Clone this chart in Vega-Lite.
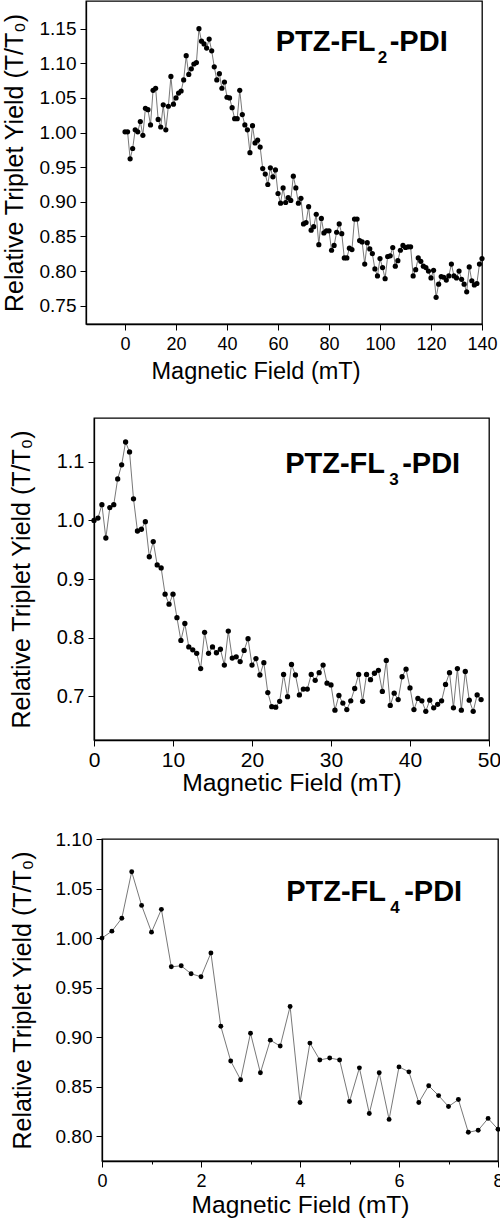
{
"$schema": "https://vega.github.io/schema/vega-lite/v6.json",
"padding": {"left": 0, "top": 0, "right": 0, "bottom": 0},
"config": {
  "font": "Liberation Sans",
  "view": {"stroke": "#000", "strokeWidth": 1.3},
  "axis": {"grid": false, "domainColor": "#000", "domainWidth": 1.3, "tickColor": "#000", "tickWidth": 1, "labelColor": "#000", "titleColor": "#000", "titleFontWeight": "normal", "labelFont": "Liberation Sans", "titleFont": "Liberation Sans", "labelOverlap": false, "labelSeparation": -1000, "labelBound": false, "labelFlush": false}
},
"datasets": {
"p2": [
{"B":0,"T":1.001},{"B":1,"T":1.001},{"B":2,"T":0.962},{"B":3,"T":0.977},{"B":4,"T":1.004},{"B":5,"T":1.001},{"B":6,"T":1.016},{"B":7,"T":0.996},{"B":8,"T":1.035},{"B":9,"T":1.033},
{"B":10,"T":1.011},{"B":11,"T":1.061},{"B":12,"T":1.064},{"B":13,"T":1.019},{"B":14,"T":1.008},{"B":15,"T":1.040},{"B":16,"T":1.004},{"B":17,"T":1.038},{"B":18,"T":1.081},{"B":19,"T":1.041},
{"B":20,"T":1.050},{"B":21,"T":1.057},{"B":22,"T":1.060},{"B":23,"T":1.076},{"B":24,"T":1.111},{"B":25,"T":1.084},{"B":26,"T":1.092},{"B":27,"T":1.099},{"B":28,"T":1.101},{"B":29,"T":1.150},
{"B":30,"T":1.132},{"B":31,"T":1.128},{"B":32,"T":1.122},{"B":33,"T":1.135},{"B":34,"T":1.118},{"B":35,"T":1.095},{"B":36,"T":1.076},{"B":37,"T":1.085},{"B":38,"T":1.064},{"B":39,"T":1.073},
{"B":40,"T":1.051},{"B":41,"T":1.050},{"B":42,"T":1.036},{"B":43,"T":1.020},{"B":44,"T":1.020},{"B":45,"T":1.061},{"B":46,"T":1.026},{"B":47,"T":1.011},{"B":48,"T":1.004},{"B":49,"T":0.971},
{"B":50,"T":1.010},{"B":51,"T":0.985},{"B":52,"T":0.989},{"B":53,"T":0.979},{"B":54,"T":0.948},{"B":55,"T":0.940},{"B":56,"T":0.925},{"B":57,"T":0.949},{"B":58,"T":0.936},{"B":59,"T":0.946},
{"B":60,"T":0.912},{"B":61,"T":0.898},{"B":62,"T":0.920},{"B":63,"T":0.899},{"B":64,"T":0.906},{"B":65,"T":0.902},{"B":66,"T":0.937},{"B":67,"T":0.920},{"B":68,"T":0.898},{"B":69,"T":0.905},
{"B":70,"T":0.868},{"B":71,"T":0.870},{"B":72,"T":0.893},{"B":73,"T":0.859},{"B":74,"T":0.864},{"B":75,"T":0.882},{"B":76,"T":0.838},{"B":77,"T":0.876},{"B":78,"T":0.855},{"B":79,"T":0.858},
{"B":80,"T":0.858},{"B":81,"T":0.830},{"B":82,"T":0.837},{"B":83,"T":0.856},{"B":84,"T":0.868},{"B":85,"T":0.854},{"B":86,"T":0.819},{"B":87,"T":0.819},{"B":88,"T":0.833},{"B":89,"T":0.831},
{"B":90,"T":0.875},{"B":91,"T":0.875},{"B":92,"T":0.844},{"B":93,"T":0.842},{"B":94,"T":0.810},{"B":95,"T":0.841},{"B":96,"T":0.832},{"B":97,"T":0.825},{"B":98,"T":0.803},{"B":99,"T":0.793},
{"B":100,"T":0.818},{"B":101,"T":0.805},{"B":102,"T":0.789},{"B":103,"T":0.821},{"B":104,"T":0.822},{"B":105,"T":0.834},{"B":106,"T":0.807},{"B":107,"T":0.815},{"B":108,"T":0.830},{"B":109,"T":0.837},
{"B":110,"T":0.834},{"B":111,"T":0.835},{"B":112,"T":0.835},{"B":113,"T":0.793},{"B":114,"T":0.802},{"B":115,"T":0.819},{"B":116,"T":0.814},{"B":117,"T":0.807},{"B":118,"T":0.805},{"B":119,"T":0.800},
{"B":120,"T":0.790},{"B":121,"T":0.801},{"B":122,"T":0.762},{"B":123,"T":0.781},{"B":124,"T":0.792},{"B":125,"T":0.791},{"B":126,"T":0.787},{"B":127,"T":0.793},{"B":128,"T":0.810},{"B":129,"T":0.793},
{"B":130,"T":0.790},{"B":131,"T":0.800},{"B":132,"T":0.788},{"B":133,"T":0.781},{"B":134,"T":0.770},{"B":135,"T":0.806},{"B":136,"T":0.786},{"B":137,"T":0.780},{"B":138,"T":0.782},{"B":139,"T":0.810},
{"B":140,"T":0.818}
],
"p3": [
{"B":0,"T":1.000},{"B":0.5,"T":1.004},{"B":1,"T":1.027},{"B":1.5,"T":0.970},{"B":2,"T":1.022},{"B":2.5,"T":1.027},{"B":3,"T":1.071},{"B":3.5,"T":1.095},{"B":4,"T":1.134},{"B":4.5,"T":1.117},
{"B":5,"T":1.037},{"B":5.5,"T":0.982},{"B":6,"T":0.985},{"B":6.5,"T":0.998},{"B":7,"T":0.938},{"B":7.5,"T":0.964},{"B":8,"T":0.924},{"B":8.5,"T":0.919},{"B":9,"T":0.874},{"B":9.5,"T":0.857},
{"B":10,"T":0.874},{"B":10.5,"T":0.834},{"B":11,"T":0.795},{"B":11.5,"T":0.824},{"B":12,"T":0.784},{"B":12.5,"T":0.779},{"B":13,"T":0.773},{"B":13.5,"T":0.747},{"B":14,"T":0.809},{"B":14.5,"T":0.773},
{"B":15,"T":0.784},{"B":15.5,"T":0.774},{"B":16,"T":0.780},{"B":16.5,"T":0.753},{"B":17,"T":0.811},{"B":17.5,"T":0.765},{"B":18,"T":0.767},{"B":18.5,"T":0.759},{"B":19,"T":0.778},{"B":19.5,"T":0.798},
{"B":20,"T":0.753},{"B":20.5,"T":0.764},{"B":21,"T":0.736},{"B":21.5,"T":0.757},{"B":22,"T":0.706},{"B":22.5,"T":0.682},{"B":23,"T":0.681},{"B":23.5,"T":0.691},{"B":24,"T":0.737},{"B":24.5,"T":0.699},
{"B":25,"T":0.754},{"B":25.5,"T":0.736},{"B":26,"T":0.702},{"B":26.5,"T":0.712},{"B":27,"T":0.712},{"B":27.5,"T":0.737},{"B":28,"T":0.727},{"B":28.5,"T":0.740},{"B":29,"T":0.753},{"B":29.5,"T":0.722},
{"B":30,"T":0.719},{"B":30.5,"T":0.676},{"B":31,"T":0.701},{"B":31.5,"T":0.688},{"B":32,"T":0.677},{"B":32.5,"T":0.692},{"B":33,"T":0.713},{"B":33.5,"T":0.737},{"B":34,"T":0.691},{"B":34.5,"T":0.737},
{"B":35,"T":0.728},{"B":35.5,"T":0.739},{"B":36,"T":0.744},{"B":36.5,"T":0.708},{"B":37,"T":0.761},{"B":37.5,"T":0.684},{"B":38,"T":0.705},{"B":38.5,"T":0.694},{"B":39,"T":0.733},{"B":39.5,"T":0.746},
{"B":40,"T":0.714},{"B":40.5,"T":0.677},{"B":41,"T":0.696},{"B":41.5,"T":0.692},{"B":42,"T":0.674},{"B":42.5,"T":0.693},{"B":43,"T":0.680},{"B":43.5,"T":0.686},{"B":44,"T":0.692},{"B":44.5,"T":0.720},
{"B":45,"T":0.740},{"B":45.5,"T":0.680},{"B":46,"T":0.747},{"B":46.5,"T":0.676},{"B":47,"T":0.742},{"B":47.5,"T":0.693},{"B":48,"T":0.674},{"B":48.5,"T":0.702},{"B":49,"T":0.694}
],
"p4": [
{"B":0,"T":1.000},{"B":0.2,"T":1.007},{"B":0.4,"T":1.020},{"B":0.6,"T":1.067},{"B":0.8,"T":1.033},{"B":1.0,"T":1.006},{"B":1.2,"T":1.029},{"B":1.4,"T":0.971},{"B":1.6,"T":0.972},{"B":1.8,"T":0.964},
{"B":2.0,"T":0.961},{"B":2.2,"T":0.985},{"B":2.4,"T":0.911},{"B":2.6,"T":0.876},{"B":2.8,"T":0.857},{"B":3.0,"T":0.904},{"B":3.2,"T":0.864},{"B":3.4,"T":0.897},{"B":3.6,"T":0.891},{"B":3.8,"T":0.931},
{"B":4.0,"T":0.834},{"B":4.2,"T":0.894},{"B":4.4,"T":0.877},{"B":4.6,"T":0.879},{"B":4.8,"T":0.877},{"B":5.0,"T":0.835},{"B":5.2,"T":0.869},{"B":5.4,"T":0.823},{"B":5.6,"T":0.864},{"B":5.8,"T":0.817},
{"B":6.0,"T":0.870},{"B":6.2,"T":0.865},{"B":6.4,"T":0.834},{"B":6.6,"T":0.851},{"B":6.8,"T":0.841},{"B":7.0,"T":0.830},{"B":7.2,"T":0.837},{"B":7.4,"T":0.804},{"B":7.6,"T":0.806},{"B":7.8,"T":0.818},
{"B":8.0,"T":0.807}
]
},
"concat": [
{"hconcat": [
{
 "width": 1, "height": 10, "view": {"stroke": null},
 "data": {"values": [{"s": 0}]},
 "mark": {"type": "point", "opacity": 0, "size": 0, "strokeWidth": 0},
 "encoding": {}
},
{
 "width": 396, "height": 323,
 "data": {"name": "p2"},
 "layer": [
  {"mark": {"type": "line", "color": "#555", "strokeWidth": 0.8},
   "encoding": {
    "x": {"field": "B", "type": "quantitative", "scale": {"domain": [-15.3, 140], "nice": false, "zero": false},
      "axis": {"values": [0,5,10,15,20,25,30,35,40,45,50,55,60,65,70,75,80,85,90,95,100,105,110,115,120,125,130,135,140],
        "labelOverlap": false, "labelSeparation": -1000,
        "labelExpr": "datum.value % 20 === 0 ? datum.label : ''",
        "tickSize": {"condition": {"test": "datum.value % 20 === 0", "value": 6}, "value": 3},
        "labelPadding": 5, "labelFontSize": 18, "title": "Magnetic Field (mT)", "titleFontSize": 23.5, "titlePadding": 6, "titleX": 169.5}},
    "y": {"field": "T", "type": "quantitative", "scale": {"domain": [0.7235, 1.19], "nice": false, "zero": false},
      "axis": {"values": [0.75,0.775,0.8,0.825,0.85,0.875,0.9,0.925,0.95,0.975,1.0,1.025,1.05,1.075,1.1,1.125,1.15,1.175],
        "format": ".2f", "labelOverlap": false, "labelSeparation": -1000,
        "labelExpr": "abs(datum.value*20 - round(datum.value*20)) < 0.001 ? datum.label : ''",
        "tickSize": {"condition": {"test": "abs(datum.value*20 - round(datum.value*20)) < 0.001", "value": 6}, "value": 3},
        "labelPadding": 4, "labelFontSize": 19, "title": "Relative Triplet Yield (T/T₀)", "titleFontSize": 25, "titlePadding": 11.5}}
   }},
  {"mark": {"type": "circle", "color": "#000", "size": 27, "opacity": 1},
   "encoding": {"x": {"field": "B", "type": "quantitative"}, "y": {"field": "T", "type": "quantitative"}}},
  {"data": {"values": [{"label": "PTZ-FL"}]},
   "mark": {"type": "text", "fontSize": 29, "fontWeight": "bold", "align": "left", "baseline": "alphabetic", "color": "#000"},
   "encoding": {"text": {"field": "label"}, "x": {"datum": 59.1}, "y": {"datum": 1.118}}},
  {"data": {"values": [{"label": "2"}]},
   "mark": {"type": "text", "fontSize": 17, "fontWeight": "bold", "align": "left", "baseline": "alphabetic", "color": "#000", "dx": 102, "dy": 12},
   "encoding": {"text": {"field": "label"}, "x": {"datum": 59.1}, "y": {"datum": 1.118}}},
  {"data": {"values": [{"label": "-PDI"}]},
   "mark": {"type": "text", "fontSize": 29, "fontWeight": "bold", "align": "left", "baseline": "alphabetic", "color": "#000", "dx": 114},
   "encoding": {"text": {"field": "label"}, "x": {"datum": 59.1}, "y": {"datum": 1.118}}}
 ]
}
], "spacing": 0},
{"hconcat": [
{
 "width": 9, "height": 10, "view": {"stroke": null},
 "data": {"values": [{"s": 0}]},
 "mark": {"type": "point", "opacity": 0, "size": 0, "strokeWidth": 0},
 "encoding": {}
},
{
 "width": 395, "height": 322,
 "data": {"name": "p3"},
 "layer": [
  {"mark": {"type": "line", "color": "#555", "strokeWidth": 0.8},
   "encoding": {
    "x": {"field": "B", "type": "quantitative", "scale": {"domain": [0, 50], "nice": false, "zero": false},
      "axis": {"values": [0,2.5,5,7.5,10,12.5,15,17.5,20,22.5,25,27.5,30,32.5,35,37.5,40,42.5,45,47.5,50],
        "labelOverlap": false, "labelSeparation": -1000,
        "labelExpr": "datum.value % 10 === 0 ? datum.label : ''",
        "tickSize": {"condition": {"test": "datum.value % 10 === 0", "value": 6}, "value": 3},
        "labelPadding": 3, "labelFontSize": 21, "title": "Magnetic Field (mT)", "titleFontSize": 24.7, "titlePadding": 0}},
    "y": {"field": "T", "type": "quantitative", "scale": {"domain": [0.625, 1.175], "nice": false, "zero": false},
      "axis": {"values": [0.7,0.75,0.8,0.85,0.9,0.95,1.0,1.05,1.1,1.15],
        "format": ".1f", "labelOverlap": false, "labelSeparation": -1000,
        "labelExpr": "abs(datum.value*10 - round(datum.value*10)) < 0.001 ? datum.label : ''",
        "tickSize": {"condition": {"test": "abs(datum.value*10 - round(datum.value*10)) < 0.001", "value": 6}, "value": 3},
        "labelPadding": 4, "labelFontSize": 20, "title": "Relative Triplet Yield (T/T₀)", "titleFontSize": 25, "titlePadding": 21.5}}
   }},
  {"mark": {"type": "circle", "color": "#000", "size": 28, "opacity": 1},
   "encoding": {"x": {"field": "B", "type": "quantitative"}, "y": {"field": "T", "type": "quantitative"}}},
  {"data": {"values": [{"label": "PTZ-FL"}]},
   "mark": {"type": "text", "fontSize": 29, "fontWeight": "bold", "align": "left", "baseline": "alphabetic", "color": "#000"},
   "encoding": {"text": {"field": "label"}, "x": {"datum": 24.2}, "y": {"datum": 1.081}}},
  {"data": {"values": [{"label": "3"}]},
   "mark": {"type": "text", "fontSize": 17, "fontWeight": "bold", "align": "left", "baseline": "alphabetic", "color": "#000", "dx": 104, "dy": 12},
   "encoding": {"text": {"field": "label"}, "x": {"datum": 24.2}, "y": {"datum": 1.081}}},
  {"data": {"values": [{"label": "-PDI"}]},
   "mark": {"type": "text", "fontSize": 29, "fontWeight": "bold", "align": "left", "baseline": "alphabetic", "color": "#000", "dx": 117},
   "encoding": {"text": {"field": "label"}, "x": {"datum": 24.2}, "y": {"datum": 1.081}}}
 ]
}
], "spacing": 0},
{"hconcat": [
{
 "width": 9, "height": 10, "view": {"stroke": null},
 "data": {"values": [{"s": 0}]},
 "mark": {"type": "point", "opacity": 0, "size": 0, "strokeWidth": 0},
 "encoding": {}
},
{
 "width": 396, "height": 322,
 "data": {"name": "p4"},
 "layer": [
  {"mark": {"type": "line", "color": "#555", "strokeWidth": 0.8},
   "encoding": {
    "x": {"field": "B", "type": "quantitative", "scale": {"domain": [0, 8], "nice": false, "zero": false},
      "axis": {"values": [0,1,2,3,4,5,6,7,8],
        "labelOverlap": false, "labelSeparation": -1000,
        "labelExpr": "datum.value % 2 === 0 ? datum.label : ''",
        "tickSize": {"condition": {"test": "datum.value % 2 === 0", "value": 6}, "value": 3},
        "labelPadding": 5, "labelFontSize": 18, "title": "Magnetic Field (mT)", "titleFontSize": 24.5, "titlePadding": 3}},
    "y": {"field": "T", "type": "quantitative", "scale": {"domain": [0.775, 1.10], "nice": false, "zero": false},
      "axis": {"values": [0.8,0.825,0.85,0.875,0.9,0.925,0.95,0.975,1.0,1.025,1.05,1.075,1.1],
        "format": ".2f", "labelOverlap": false, "labelSeparation": -1000,
        "labelExpr": "abs(datum.value*20 - round(datum.value*20)) < 0.001 ? datum.label : ''",
        "tickSize": {"condition": {"test": "abs(datum.value*20 - round(datum.value*20)) < 0.001", "value": 6}, "value": 3},
        "labelPadding": 4, "labelFontSize": 19, "title": "Relative Triplet Yield (T/T₀)", "titleFontSize": 25, "titlePadding": 20}}
   }},
  {"mark": {"type": "circle", "color": "#000", "size": 24, "opacity": 1},
   "encoding": {"x": {"field": "B", "type": "quantitative"}, "y": {"field": "T", "type": "quantitative"}}},
  {"data": {"values": [{"label": "PTZ-FL"}]},
   "mark": {"type": "text", "fontSize": 29, "fontWeight": "bold", "align": "left", "baseline": "alphabetic", "color": "#000"},
   "encoding": {"text": {"field": "label"}, "x": {"datum": 3.72}, "y": {"datum": 1.037}}},
  {"data": {"values": [{"label": "4"}]},
   "mark": {"type": "text", "fontSize": 17, "fontWeight": "bold", "align": "left", "baseline": "alphabetic", "color": "#000", "dx": 104, "dy": 12},
   "encoding": {"text": {"field": "label"}, "x": {"datum": 3.72}, "y": {"datum": 1.037}}},
  {"data": {"values": [{"label": "-PDI"}]},
   "mark": {"type": "text", "fontSize": 29, "fontWeight": "bold", "align": "left", "baseline": "alphabetic", "color": "#000", "dx": 118},
   "encoding": {"text": {"field": "label"}, "x": {"datum": 3.72}, "y": {"datum": 1.037}}}
 ]
}
], "spacing": 0}
],
"columns": 1,
"bounds": "full",
"spacing": 33
}
